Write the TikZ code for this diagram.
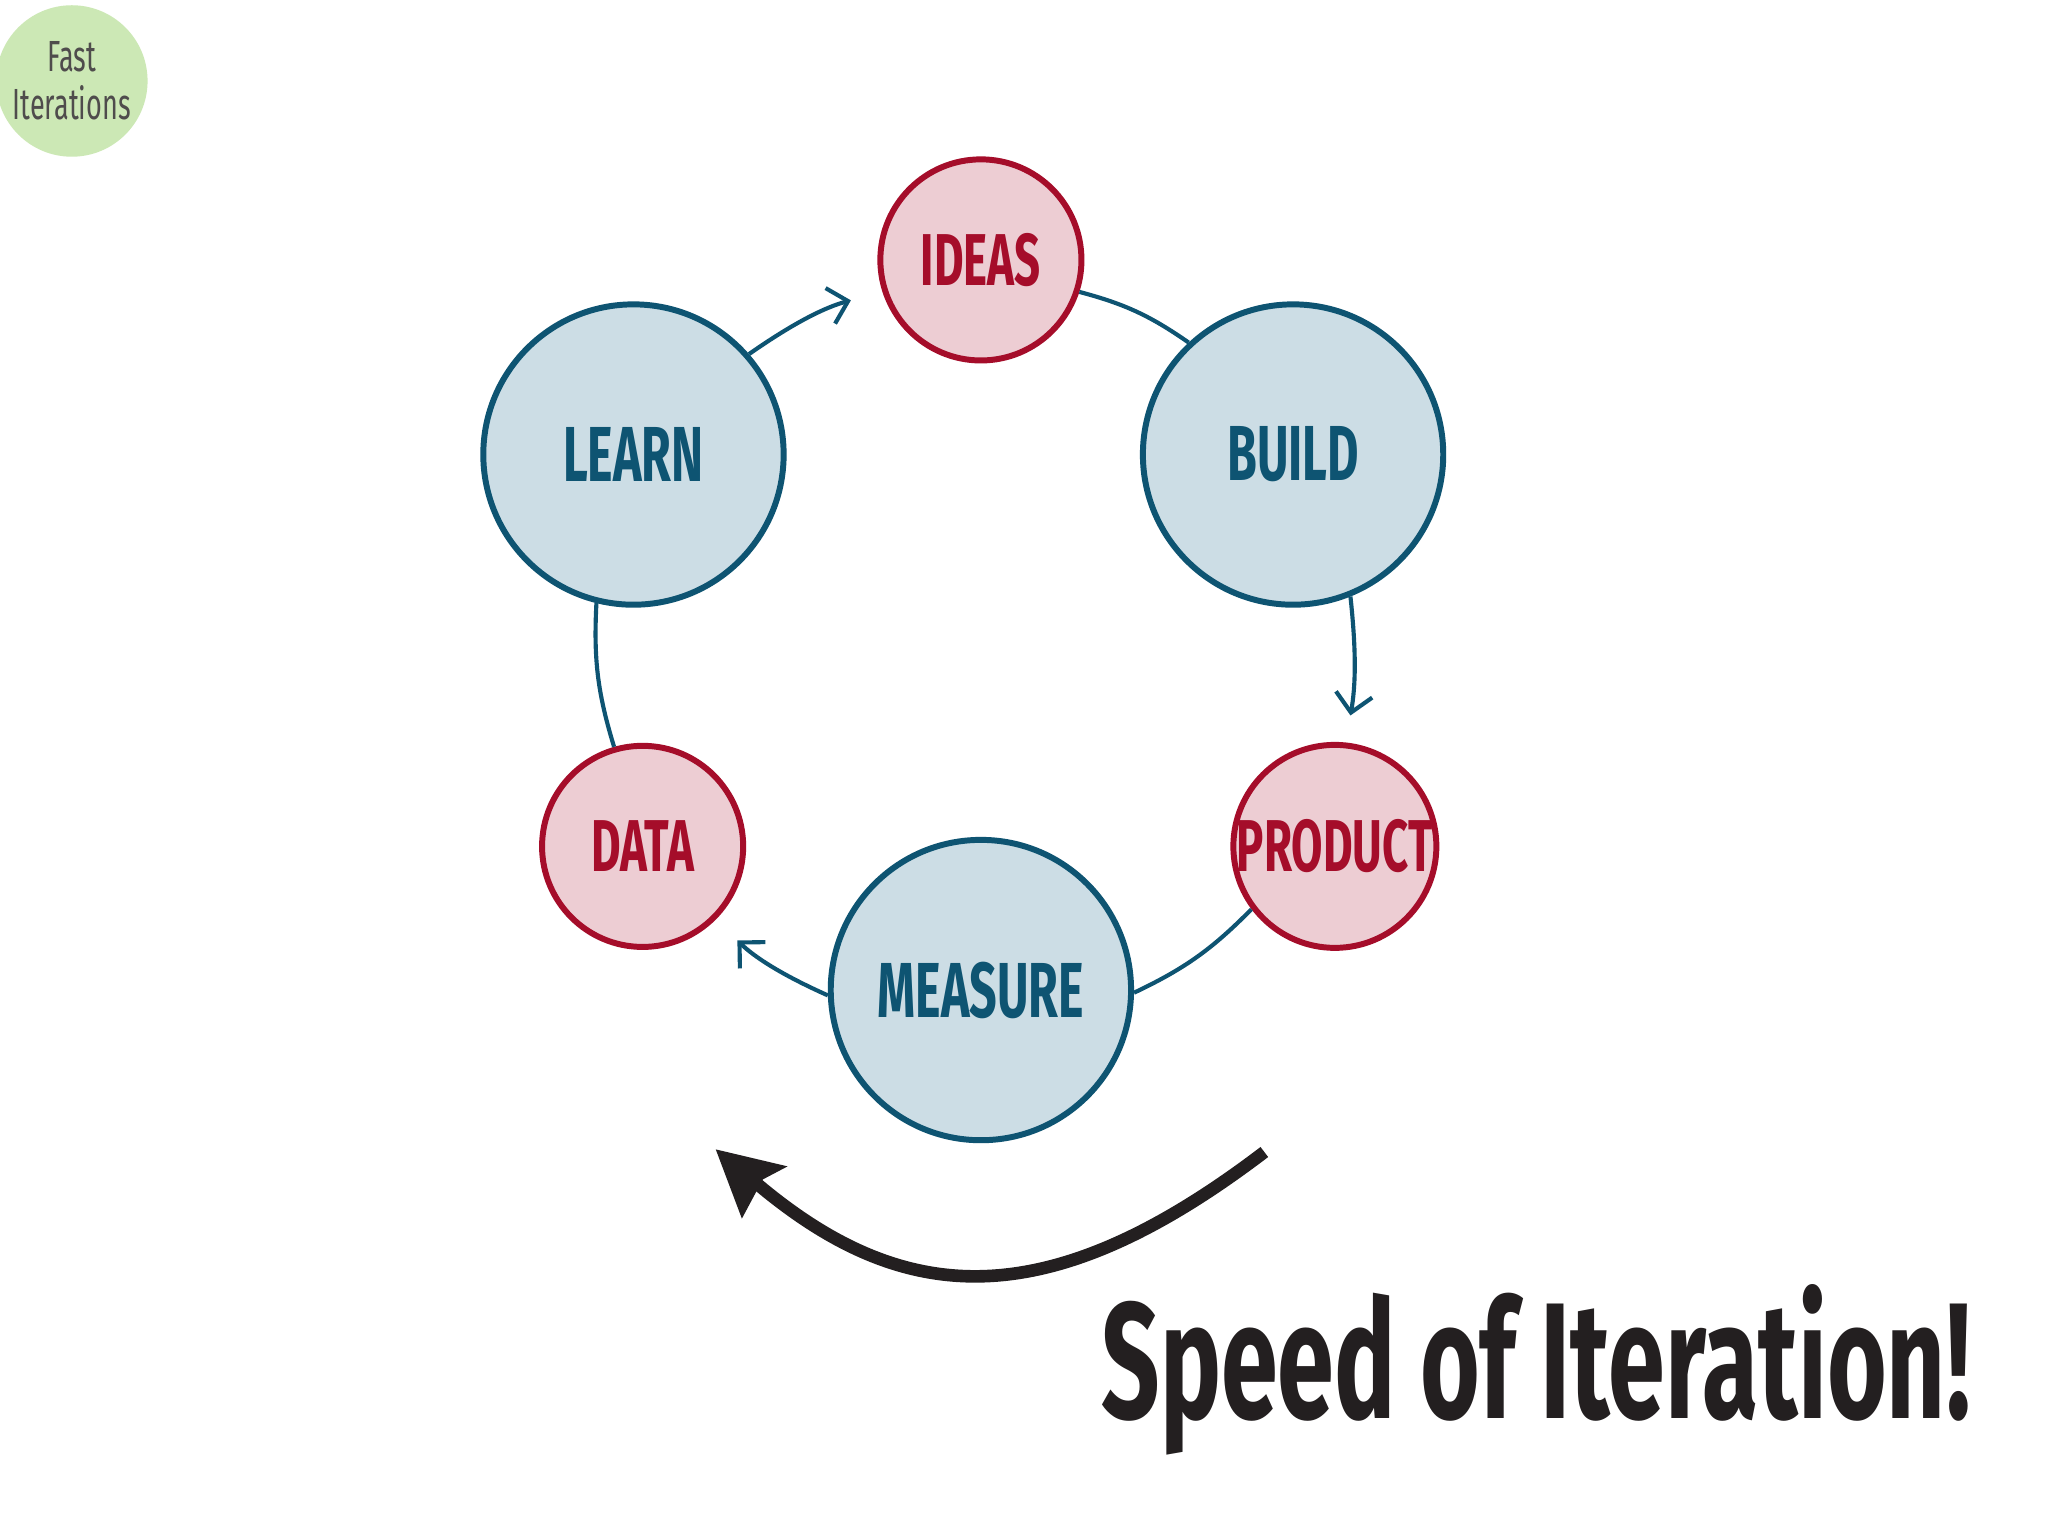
\documentclass[tikz,border=0pt]{standalone}
\usepackage{fontspec}
\newfontfamily\cond[FakeStretch=0.62]{Fira Sans}
\usetikzlibrary{arrows.meta}
\definecolor{bl}{HTML}{0E5472}
\definecolor{blf}{HTML}{CCDDE5}
\definecolor{rd}{HTML}{A50D2A}
\definecolor{rdf}{HTML}{EDCDD3}
\definecolor{gf}{HTML}{CCE8B5}
\definecolor{ink}{HTML}{231F20}
\begin{document}
\begin{tikzpicture}[x=0.02cm,y=-0.02cm,
  big/.style={circle,draw=bl,fill=blf,line width=2.6pt,minimum size=4.6cm,inner sep=0pt,text=bl,font=\cond\bfseries\fontsize{34}{34}\selectfont},
  small/.style={circle,draw=rd,fill=rdf,line width=2.6pt,minimum size=3.08cm,inner sep=0pt,text=rd,font=\cond\bfseries\fontsize{32}{32}\selectfont},
  conn/.style={draw=bl,line width=1.8pt},
  arr/.style={conn,-{Straight Barb[length=8pt,width=16pt,line width=1.8pt]}}]
\useasboundingbox[fill=white] (0,0) rectangle (1568,1176);
\node[circle,fill=gf,minimum size=2.32cm,inner sep=0pt,align=center,text=ink!80,font=\cond\fontsize{19}{21}\selectfont] (fast) at (55,62) {Fast\\Iterations};
\node[small] (ideas) at (751,199) {IDEAS};
\node[big] (learn) at (485,348) {LEARN};
\node[big] (build) at (990,348) {BUILD};
\node[small] (data) at (492,648) {DATA};
\node[small] (product) at (1022,648) {PRODUCT};
\node[big] (measure) at (751,758) {MEASURE};
\draw[arr,shorten >=0.5cm] (learn.41) to[bend left=10] (ideas.198);
\draw[conn] (ideas.342) to[bend left=10] (build.133);
\draw[arr,shorten >=0.42cm] (build.292) to[bend left=8] (product.84);
\draw[conn] (product.217) to[bend left=10] (measure.359);
\draw[arr,shorten >=0.46cm] (measure.182) to[bend left=10] (data.315);
\draw[conn] (data.106) to[bend left=10] (learn.256);
\coordinate (bs) at (968,882);
\coordinate (be) at (578,905);
\draw[ink,line width=5.5pt] (bs) .. controls (800,1010) and (690,1000) .. (be);
\fill[ink] (548,880) -- (603,893) -- (584,903) -- (568,933) -- cycle;
\node[anchor=base west,inner sep=0pt,text=ink,font=\cond\bfseries\fontsize{72}{72}\selectfont] (title) at (843,1086) {Speed of Iteration!};
\end{tikzpicture}
\end{document}
